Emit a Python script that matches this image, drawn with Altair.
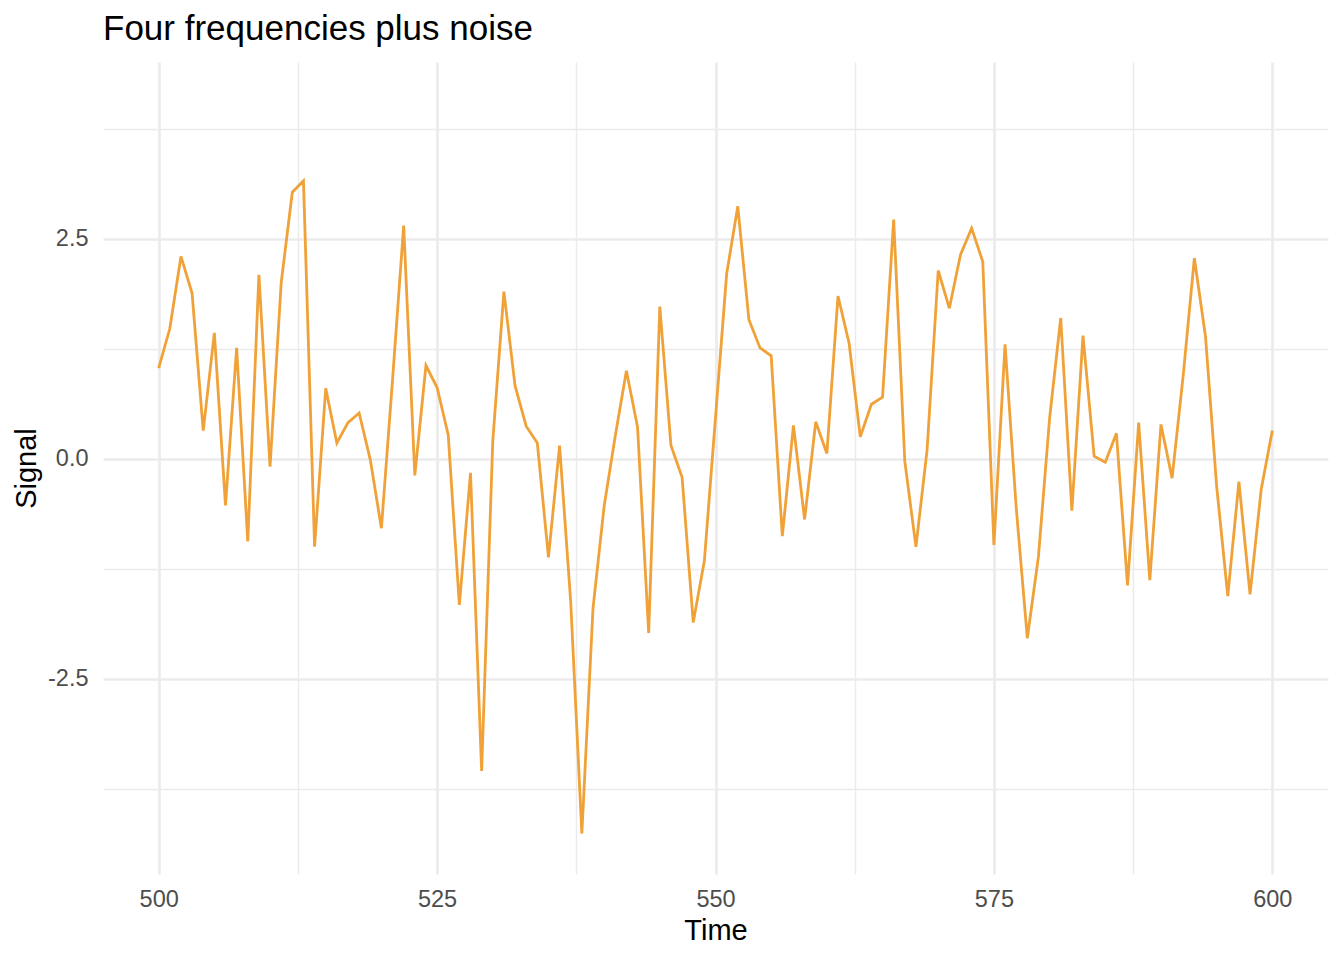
import altair as alt
import pandas as pd

time = list(range(500, 601))
signal = [
    1.03, 1.48, 2.30, 1.88, 0.32, 1.43, -0.53, 1.26, -0.94, 2.09,
    -0.09, 2.00, 3.03, 3.16, -1.00, 0.80, 0.18, 0.41, 0.52, -0.01,
    -0.79, 0.90, 2.65, -0.19, 1.06, 0.81, 0.27, -1.66, -0.16, -3.55,
    0.20, 1.90, 0.83, 0.37, 0.18, -1.12, 0.15, -1.63, -4.26, -1.70,
    -0.54, 0.26, 1.00, 0.36, -1.98, 1.73, 0.15, -0.21, -1.86, -1.16,
    0.47, 2.10, 2.87, 1.58, 1.26, 1.17, -0.88, 0.38, -0.69, 0.42,
    0.06, 1.85, 1.31, 0.25, 0.62, 0.70, 2.72, -0.03, -1.00, 0.10,
    2.14, 1.71, 2.32, 2.62, 2.24, -0.98, 1.30, -0.55, -2.04, -1.11,
    0.46, 1.60, -0.59, 1.40, 0.03, -0.04, 0.29, -1.44, 0.41, -1.38,
    0.39, -0.22, 0.95, 2.28, 1.39, -0.31, -1.56, -0.26, -1.54, -0.35,
    0.32,
]
x_grid = [500, 512.5, 525, 537.5, 550, 562.5, 575, 587.5, 600]
y_grid = [-3.75, -2.5, -1.25, 0, 1.25, 2.5, 3.75]

df = pd.DataFrame({"time": time, "signal": signal})

FONT = "Liberation Sans"
GRID = "#EBEBEB"

x_axis = alt.Axis(
    values=x_grid,
    title="Time",
    grid=True,
    gridColor=GRID,
    gridWidth={"expr": "datum.value % 25 == 0 ? 2.7 : 1.4"},
    labelExpr="datum.value % 25 == 0 ? format(datum.value, 'd') : ''",
    domain=False,
    ticks=False,
    labelPadding=13,
    labelFontSize=23.5,
    labelColor="#4D4D4D",
    labelFont=FONT,
    titleFont=FONT,
    titleFontSize=29,
    titleFontWeight="normal",
    titleColor="black",
    titlePadding=6,
)
y_axis = alt.Axis(
    values=y_grid,
    title="Signal",
    grid=True,
    gridColor=GRID,
    gridWidth={"expr": "datum.value % 2.5 == 0 ? 2.7 : 1.4"},
    labelExpr="datum.value % 2.5 == 0 ? replace(format(datum.value, '.1f'), '\u2212', '-') : ''",
    domain=False,
    ticks=False,
    labelPadding=15,
    labelFontSize=23.5,
    labelColor="#4D4D4D",
    labelFont=FONT,
    titleFont=FONT,
    titleFontSize=29,
    titleFontWeight="normal",
    titleColor="black",
    titlePadding=6,
)

chart = (
    alt.Chart(df)
    .mark_line(color="#F0A238", strokeWidth=2.8)
    .encode(
        x=alt.X("time:Q", scale=alt.Scale(domain=[495, 605], nice=False, zero=False), axis=x_axis),
        y=alt.Y("signal:Q", scale=alt.Scale(domain=[-4.72, 4.51], nice=False, zero=False), axis=y_axis),
    )
    .properties(
        width=1225,
        height=812,
        background="white",
        title=alt.TitleParams(
            "Four frequencies plus noise",
            anchor="start",
            frame="group",
            font=FONT,
            fontSize=35,
            fontWeight="normal",
            color="black",
            baseline="alphabetic",
            offset=21,
            dy=34,
        ),
        padding={"left": 95, "top": 54, "right": 8, "bottom": 78},
        autosize=alt.AutoSizeParams(type="none"),
    )
    .configure_view(stroke=None)
)

chart.save("out.html", embed_options={"renderer": "svg", "actions": False})
